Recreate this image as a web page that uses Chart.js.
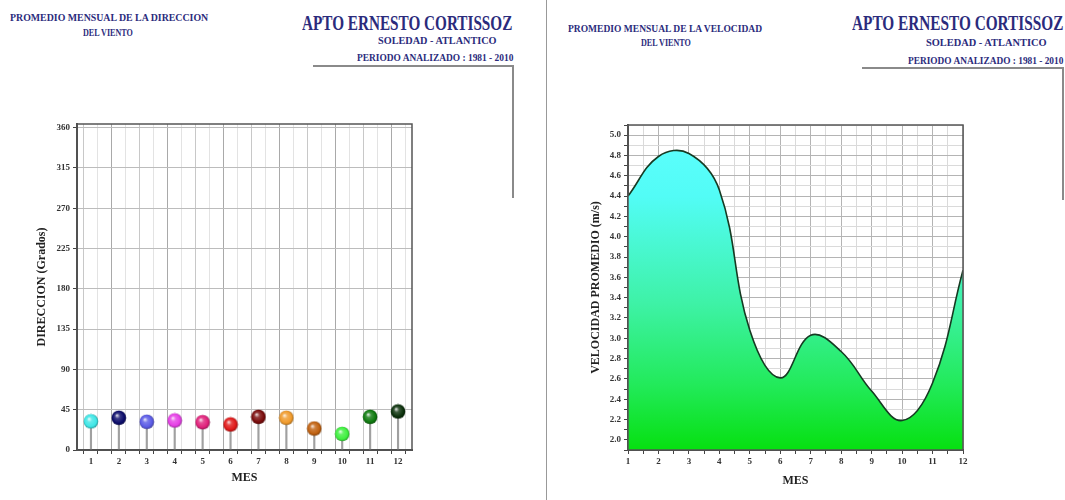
<!DOCTYPE html>
<html lang="es">
<head>
<meta charset="UTF-8">
<title>Promedio mensual del viento - Apto Ernesto Cortissoz</title>
<script src="https://cdn.jsdelivr.net/npm/chart.js"></script>
<style>
  body { margin: 0; background: #fff; font-family: 'Liberation Serif', serif; }
  #page { position: relative; width: 1065px; height: 500px; overflow: hidden; background: #fff; }
  .txt { position: absolute; white-space: nowrap; font-weight: bold; color: #2b2b7c; line-height: 1; transform-origin: 0 50%; }
  .ln { position: absolute; background: #8a8a8a; }
  .box { position: absolute; top: 100px; height: 400px; }
</style>
</head>
<body>
<div id="page">
  <!-- left header -->
  <div class="txt" data-w="198" style="left:10px;top:11.5px;font-size:11px">PROMEDIO MENSUAL DE LA DIRECCION</div>
  <div class="txt" data-w="50" style="left:83px;top:26.5px;font-size:11px">DEL VIENTO</div>
  <div class="txt" data-w="210" style="left:302px;top:13px;font-size:20px">APTO ERNESTO CORTISSOZ</div>
  <div class="txt" data-w="119" style="left:378px;top:34.5px;font-size:11px">SOLEDAD - ATLANTICO</div>
  <div class="txt" data-w="156" style="left:357px;top:53px;font-size:10px">PERIODO ANALIZADO : 1981 - 2010</div>
  <div class="ln" style="left:313px;top:65px;width:201px;height:2px"></div>
  <div class="ln" style="left:512px;top:65px;width:2px;height:133px"></div>

  <!-- separator -->
  <div class="ln" style="left:546px;top:0;width:1px;height:500px;background:#999"></div>

  <!-- right header -->
  <div class="txt" data-w="194" style="left:568px;top:22.5px;font-size:11px">PROMEDIO MENSUAL DE LA VELOCIDAD</div>
  <div class="txt" data-w="50" style="left:641px;top:36.5px;font-size:11px">DEL VIENTO</div>
  <div class="txt" data-w="211" style="left:852px;top:13px;font-size:20px">APTO ERNESTO CORTISSOZ</div>
  <div class="txt" data-w="121" style="left:926px;top:36.5px;font-size:11px">SOLEDAD - ATLANTICO</div>
  <div class="txt" data-w="155" style="left:908px;top:56px;font-size:10px">PERIODO ANALIZADO : 1981 - 2010</div>
  <div class="ln" style="left:862px;top:67px;width:202px;height:2px"></div>
  <div class="ln" style="left:1062px;top:67px;width:2px;height:133px"></div>

  <div class="box" style="left:0;width:540px"><canvas id="dirChart"></canvas></div>
  <div class="box" style="left:547px;width:518px"><canvas id="velChart"></canvas></div>
</div>

<script>
// ---- data ----
const months = [1, 2, 3, 4, 5, 6, 7, 8, 9, 10, 11, 12];
const direccion = [32, 36, 31.5, 33, 31, 28.5, 37, 36, 24, 18, 37, 43];
const ballColors = ['#3ee6e6', '#0b0b6a', '#5a5ae6', '#e63ee6', '#e0207a', '#e01818',
                    '#7a0a0a', '#f09a2a', '#c0600e', '#3ef03e', '#0e7a0e', '#0a300a'];
const dirTicks = [0, 45, 90, 135, 180, 225, 270, 315, 360];

const velocidad = [4.40, 4.79, 4.82, 4.46, 3.08, 2.61, 3.03, 2.87, 2.48, 2.19, 2.56, 3.67];
const velTicks = [2.0, 2.2, 2.4, 2.6, 2.8, 3.0, 3.2, 3.4, 3.6, 3.8, 4.0, 4.2, 4.4, 4.6, 4.8, 5.0];

// stretch header texts to the widths seen in the picture
document.querySelectorAll('.txt').forEach(el => {
    const w = +el.dataset.w;
    el.style.transform = 'scaleX(' + (w / el.offsetWidth) + ')';
});

const tickFont = { family: 'Liberation Serif', weight: 'bold', size: 9 };
const titleFont = { family: 'Liberation Serif', weight: 'bold', size: 12 };

function mix(hex, target, t) {
    let n = parseInt(hex.slice(1), 16);
    let r = n >> 16, g = (n >> 8) & 255, b = n & 255;
    r = Math.round(r + (target - r) * t);
    g = Math.round(g + (target - g) * t);
    b = Math.round(b + (target - b) * t);
    return 'rgb(' + r + ',' + g + ',' + b + ')';
}

function ballImage(color) {
    let c = document.createElement('canvas');
    c.width = 16; c.height = 16;
    let g = c.getContext('2d');
    let grad = g.createRadialGradient(6, 5.5, 0.3, 8, 8, 7.8);
    grad.addColorStop(0, mix(color, 255, 0.85));
    grad.addColorStop(0.3, mix(color, 255, 0.2));
    grad.addColorStop(0.75, color);
    grad.addColorStop(1, mix(color, 0, 0.45));
    g.fillStyle = grad;
    g.beginPath();
    g.arc(8, 8, 7.3, 0, Math.PI * 2);
    g.fill();
    return c;
}

// full frame round the plot area
const frame = {
    id: 'frame',
    afterDraw(chart) {
        const { ctx, chartArea: a } = chart;
        ctx.save();
        ctx.strokeStyle = '#555';
        ctx.lineWidth = 1.5;
        ctx.strokeRect(a.left, a.top, a.right - a.left, a.bottom - a.top);
        ctx.restore();
    }
};

function halfSteps(from, to) {
    let out = [];
    for (let v = from; v <= to + 1e-9; v += 0.5) out.push({ value: v });
    return out;
}

const tickVal = c => (c.tick ? c.tick.value : 0);

// ---------- direction chart ----------
new Chart(document.getElementById('dirChart'), {
    type: 'scatter',
    data: {
        datasets: [{
            type: 'bar',
            data: months.map((m, i) => ({ x: m, y: direccion[i] })),
            backgroundColor: '#a0a0a0',
            barThickness: 1.5,
            order: 2
        }, {
            type: 'scatter',
            data: months.map((m, i) => ({ x: m, y: direccion[i] })),
            pointStyle: ballColors.map(ballImage),
            order: 1
        }]
    },
    options: {
        responsive: true,
        maintainAspectRatio: false,
        animation: false,
        layout: { padding: { top: 24, right: 128, left: 0, bottom: 0 } },
        plugins: { legend: { display: false }, tooltip: { enabled: false } },
        scales: {
            x: {
                type: 'linear', min: 0.5, max: 12.5, offset: false,
                afterBuildTicks: s => { s.ticks = halfSteps(0.5, 12.5); },
                afterFit: s => { s.height = 50; },
                ticks: {
                    font: tickFont, color: '#333', padding: 2, maxRotation: 0, autoSkip: false,
                    callback: v => Number.isInteger(v) ? String(v) : ''
                },
                grid: {
                    tickLength: 4, tickColor: '#444',
                    color: c => {
                        const v = tickVal(c);
                        if (!Number.isInteger(v)) return '#e3e3e3';
                        return v % 2 === 0 ? '#a9a9a9' : '#c8c8c8';
                    }
                },
                border: { color: '#444', width: 2 },
                title: { display: true, text: 'MES', font: titleFont, color: '#222', padding: { top: 0, bottom: 15 } }
            },
            y: {
                min: 0, max: 364,
                afterBuildTicks: s => { s.ticks = dirTicks.map(v => ({ value: v })); },
                afterFit: s => { s.width = 77; },
                ticks: { font: tickFont, color: '#333', padding: 3 },
                grid: { tickLength: 4, tickColor: '#444', color: '#bcbcbc' },
                border: { color: '#444', width: 2 },
                title: { display: true, text: 'DIRECCION (Grados)', font: titleFont, color: '#222', padding: { top: 35, bottom: 0 } }
            }
        }
    },
    plugins: [frame]
});

// ---------- speed chart ----------
new Chart(document.getElementById('velChart'), {
    type: 'line',
    data: {
        datasets: [{
            data: months.map((m, i) => ({ x: m, y: velocidad[i] })),
            borderColor: '#163a22',
            borderWidth: 1.6,
            tension: 0.4,
            pointRadius: 0,
            fill: 'start',
            backgroundColor: c => {
                const a = c.chart.chartArea;
                if (!a) return '#30f090';
                const g = c.chart.ctx.createLinearGradient(0, a.top, 0, a.bottom);
                g.addColorStop(0, '#5effff');
                g.addColorStop(0.22, '#52fcf6');
                g.addColorStop(0.55, '#3ef2a6');
                g.addColorStop(0.8, '#22ea5a');
                g.addColorStop(1, '#06e010');
                return g;
            }
        }]
    },
    options: {
        responsive: true,
        maintainAspectRatio: false,
        animation: false,
        layout: { padding: { top: 25, right: 102, left: 0, bottom: 0 } },
        plugins: { legend: { display: false }, tooltip: { enabled: false } },
        scales: {
            x: {
                type: 'linear', min: 1, max: 12,
                afterBuildTicks: s => { s.ticks = halfSteps(1, 12); },
                afterFit: s => { s.height = 50; },
                ticks: {
                    font: tickFont, color: '#333', padding: 2, maxRotation: 0, autoSkip: false,
                    callback: v => Number.isInteger(v) ? String(v) : ''
                },
                grid: {
                    tickLength: 4, tickColor: '#444',
                    color: c => Number.isInteger(tickVal(c)) ? '#b4b4b4' : '#dadada'
                },
                border: { color: '#444', width: 2 },
                title: { display: true, text: 'MES', font: titleFont, color: '#222', padding: { top: 0, bottom: 12 } }
            },
            y: {
                min: 1.9, max: 5.1,
                afterBuildTicks: s => {
                    let t = [];
                    for (let k = 19; k <= 51; k++) t.push({ value: k / 10 });
                    s.ticks = t;
                },
                afterFit: s => { s.width = 81; },
                ticks: {
                    font: tickFont, color: '#333', padding: 3, autoSkip: false,
                    callback: v => velTicks.some(t => Math.abs(t - v) < 1e-6) ? v.toFixed(1) : ''
                },
                grid: {
                    tickLength: 4, tickColor: '#444',
                    color: c => Math.round(tickVal(c) * 10) % 2 === 0 ? '#b4b4b4' : '#dadada'
                },
                border: { color: '#444', width: 2 },
                title: { display: true, text: 'VELOCIDAD PROMEDIO (m/s)', font: titleFont, color: '#222', padding: { top: 42, bottom: 0 } }
            }
        }
    },
    plugins: [frame]
});
</script>
</body>
</html>
